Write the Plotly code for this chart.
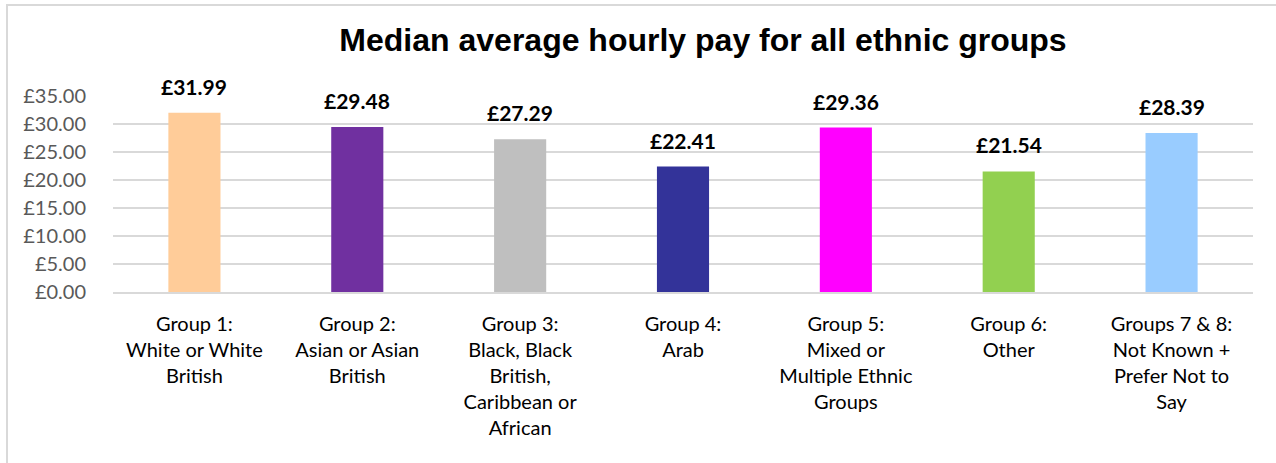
import plotly.graph_objects as go

categories = [
    "Group 1:<br>White or White<br>British",
    "Group 2:<br>Asian or Asian<br>British",
    "Group 3:<br>Black, Black<br>British,<br>Caribbean or<br>African",
    "Group 4:<br>Arab",
    "Group 5:<br>Mixed or<br>Multiple Ethnic<br>Groups",
    "Group 6:<br>Other",
    "Groups 7 & 8:<br>Not Known +<br>Prefer Not to<br>Say",
]
values = [31.99, 29.48, 27.29, 22.41, 29.36, 21.54, 28.39]
colors = ["#FFCC99", "#7030A0", "#BFBFBF", "#333399", "#FF00FF", "#92D050", "#99CCFF"]
y_ticks = [0, 5, 10, 15, 20, 25, 30, 35]
y_tick_labels = ["£%.2f" % v for v in y_ticks]

W, H = 1276, 463
L, R, T, B = 113, 23, 96, 171
pw, ph = W - L - R, H - T - B

fig = go.Figure()
fig.add_trace(go.Bar(
    x=categories, y=values, marker=dict(color=colors, line=dict(width=0)),
    hoverinfo="skip",
))

for c, v in zip(categories, values):
    fig.add_annotation(
        x=c, y=v, xref="x", yref="y", text="<b>£%.2f</b>" % v,
        showarrow=False, yanchor="bottom", yshift=12,
        font=dict(family="Lato, Carlito, sans-serif", size=21, color="#000000"),
    )

def px_x(p):
    return (p - L) / pw

def px_y(p):
    return (H - B - p) / ph

fig.add_shape(type="rect", xref="paper", yref="paper",
              x0=px_x(7), x1=px_x(1290), y0=px_y(480), y1=px_y(5),
              line=dict(color="#D9D9D9", width=2), fillcolor="rgba(0,0,0,0)", layer="below")

fig.update_layout(
    width=W, height=H,
    margin=dict(l=L, r=R, t=T, b=B, pad=0),
    paper_bgcolor="white", plot_bgcolor="white",
    bargap=0.68,
    showlegend=False,
    title=dict(
        text="<b>Median average hourly pay for all ethnic groups</b>",
        x=703 / W, xanchor="center", y=1 - 40 / H, yanchor="middle",
        font=dict(family="Liberation Sans, Arial, sans-serif", size=32, color="#000000"),
    ),
    xaxis=dict(
        showgrid=False, zeroline=False, showline=True, linecolor="#D9D9D9", linewidth=1.5,
        tickfont=dict(family="Lato, Carlito, sans-serif", size=20, color="#000000"),
        ticks="outside", ticklen=13, tickcolor="rgba(0,0,0,0)",
        fixedrange=True,
    ),
    yaxis=dict(
        range=[0, 35], tickvals=y_ticks, ticktext=y_tick_labels,
        showgrid=True, gridcolor="#D9D9D9", gridwidth=1.5, zeroline=False,
        showline=False,
        tickfont=dict(family="Lato, Carlito, sans-serif", size=20, color="#595959"),
        ticks="outside", ticklen=22, tickcolor="rgba(0,0,0,0)",
        fixedrange=True,
    ),
)

fig.write_html("out.html", config={"displayModeBar": False},
               post_script="document.body.style.margin='0';")
